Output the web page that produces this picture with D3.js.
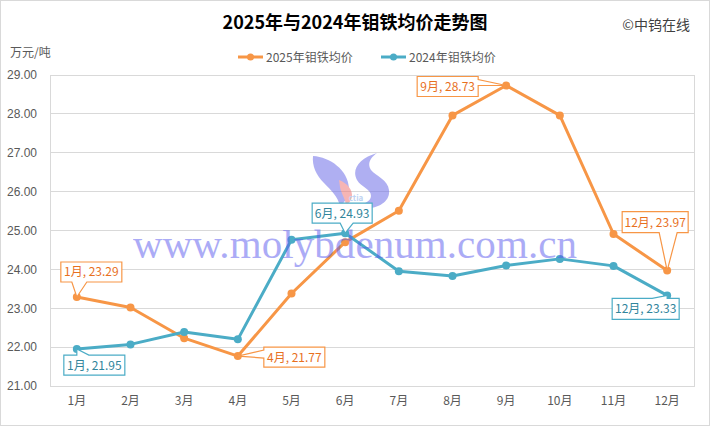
<!DOCTYPE html>
<html><head><meta charset="utf-8">
<script src="https://cdn.jsdelivr.net/npm/d3@7"></script>
<style>
html,body{margin:0;padding:0;background:#fff;}
svg{display:block;}
text{font-family:"Noto Sans CJK SC","Noto Sans",sans-serif;}
</style></head>
<body>
<svg id="c" width="710" height="426"></svg>
<script>
const months = ["1月","2月","3月","4月","5月","6月","7月","8月","9月","10月","11月","12月"];
const values2025 = [23.29,23.02,22.23,21.77,23.38,24.70,25.51,27.96,28.73,27.96,24.91,23.97];
const values2024 = [21.95,22.07,22.39,22.20,24.76,24.93,23.95,23.83,24.10,24.27,24.09,23.33];
const yTicks = [21,22,23,24,25,26,27,28,29];
const seriesNames = ["2025年钼铁均价","2024年钼铁均价"];
const titleText = "2025年与2024年钼铁均价走势图";
const unitText = "万元/吨";
const sourceText = "©中钨在线";
const watermarkText = "www.molybdenum.com.cn";

const C25 = "#F79646", C24 = "#4BACC6", T25 = "#E8701E", T24 = "#31859C";
const svg = d3.select("#c");
const W = 710, H = 426;
const L = 50, R = 694, T = 75, B = 386;

svg.append("rect").attr("x",0.5).attr("y",0.5).attr("width",W-1).attr("height",H-1)
  .attr("fill","#fff").attr("stroke","#d9d9d9");

const x = d3.scaleBand().domain(months).range([L,R]).padding(0);
const cx = m => x(m) + x.bandwidth()/2;
const y = d3.scaleLinear().domain([21,29]).range([B,T]);

// gridlines
svg.append("g").selectAll("line").data(yTicks).join("line")
  .attr("x1",L).attr("x2",R).attr("y1",d=>y(d)).attr("y2",d=>y(d))
  .attr("stroke","#d9d9d9").attr("stroke-width",1).attr("shape-rendering","crispEdges");
svg.append("rect").attr("x",L).attr("y",T).attr("width",R-L).attr("height",B-T)
  .attr("fill","none").attr("stroke","#d9d9d9").attr("shape-rendering","crispEdges");

// axes
const yAxis = svg.append("g").attr("transform",`translate(${L},0)`)
  .call(d3.axisLeft(y).tickValues(yTicks).tickFormat(d3.format(".2f")).tickSize(0).tickPadding(13));
yAxis.select(".domain").remove();
yAxis.selectAll("text").attr("fill","#595959").style("font-size","12px")
  .style("font-family","'Liberation Sans','Noto Sans',sans-serif");

const xAxis = svg.append("g").attr("transform",`translate(0,${B})`)
  .call(d3.axisBottom(x).tickSize(0).tickPadding(10));
xAxis.select(".domain").remove();
xAxis.selectAll("text").attr("fill","#595959").style("font-size","12px");

// lines
const line = d3.line().x((d,i)=>cx(months[i])).y(d=>y(d));
function drawSeries(vals,color){
  svg.append("path").datum(vals).attr("d",line).attr("fill","none")
    .attr("stroke",color).attr("stroke-width",3).attr("stroke-linejoin","round");
  svg.append("g").selectAll("circle").data(vals).join("circle")
    .attr("cx",(d,i)=>cx(months[i])).attr("cy",d=>y(d)).attr("r",4).attr("fill",color);
}
drawSeries(values2025,C25);
drawSeries(values2024,C24);

// watermark logo
const wm = svg.append("g").attr("opacity",0.55);
wm.append("path").attr("fill","#6f6fe8")
  .attr("d","M313,156 C330,157 348,170 349,188 C349,196 345,202 340,206 C338,197 331,190 324,183 C316,175 312,166 313,156 Z");
wm.append("path").attr("fill","#6f6fe8")
  .attr("d","M377,153 C360,158 351,169 357,180 C361,187 371,189 371,196 C371,202 362,205 352,206 C371,213 391,204 389,190 C388,180 376,176 371,170 C367,164 370,158 377,153 Z");
wm.append("path").attr("fill","#f07a7a")
  .attr("d","M339,180 C347,183 353,190 352,197 C351,201 349,203 346,205 C345,198 341,193 340,187 Z");
wm.append("text").attr("x",356).attr("y",201).attr("text-anchor","middle")
  .attr("fill","#8ab0e8").style("font-size","8px").style("font-weight","bold").text("ctia");
svg.append("text").attr("x",133).attr("y",258).attr("textLength",444)
  .attr("fill","#5a5aee").attr("opacity",0.5)
  .style("font-family","'Liberation Serif','DejaVu Serif',serif").style("font-size","41px")
  .text(watermarkText);

// callouts
function callout(i, vals, color, tcolor, box, side, a, b){
  const px = cx(months[i]), py = y(vals[i]);
  const x0=px+box[0], x1=px+box[1], y0=py+box[2], y1=py+box[3];
  let d;
  if(side==="bottom") d=`M${x0},${y0}H${x1}V${y1}H${px+b}L${px},${py}L${px+a},${y1}H${x0}Z`;
  else if(side==="top") d=`M${x0},${y0}H${px+a}L${px},${py}L${px+b},${y0}H${x1}V${y1}H${x0}Z`;
  else if(side==="left") d=`M${x0},${y0}H${x1}V${y1}H${x0}V${py+b}L${px},${py}L${x0},${py+a}Z`;
  else d=`M${x0},${y0}H${x1}V${py+a}L${px},${py}L${x1},${py+b}V${y1}H${x0}Z`;
  svg.append("path").attr("d",d).attr("fill","#fff").attr("stroke",color).attr("stroke-width",1.2);
  svg.append("text").attr("x",(x0+x1)/2).attr("y",(y0+y1)/2+4.5).attr("text-anchor","middle")
    .attr("fill",tcolor).style("font-size","12px")
    .text(`${months[i]}, ${vals[i].toFixed(2)}`);
}
callout(0, values2025, C25, T25, [-16,45,-35,-15], "bottom", -5, 10);
callout(0, values2024, C24, T24, [-13,48,6,26], "top", 0, 12);
callout(3, values2025, C25, T25, [26,87,-9,11], "left", -6, 2);
callout(5, values2024, C24, T24, [-33,27,-30,-10], "bottom", -5, 8);
callout(8, values2025, C25, T25, [-89,-28,-9,11], "right", -6, 0);
callout(11, values2025, C25, T25, [-45,21,-59,-38], "bottom", -8, 10);
callout(11, values2024, C24, T24, [-55,12,3,24], "top", -15, 0);

// title and texts
svg.append("text").attr("x",355).attr("y",29).attr("text-anchor","middle")
  .attr("fill","#000").style("font-size","18px").style("font-weight","bold").text(titleText);
svg.append("text").attr("x",690).attr("y",30).attr("text-anchor","end")
  .attr("fill","#404040").style("font-size","14px").text(sourceText);
svg.append("text").attr("x",10).attr("y",57)
  .attr("fill","#595959").style("font-size","12px").text(unitText);

// legend
const legend = svg.append("g");
[[238,C25,seriesNames[0]],[381,C24,seriesNames[1]]].forEach(([lx,c,t])=>{
  legend.append("line").attr("x1",lx).attr("x2",lx+25).attr("y1",57).attr("y2",57)
    .attr("stroke",c).attr("stroke-width",3);
  legend.append("circle").attr("cx",lx+12.5).attr("cy",57).attr("r",3.5).attr("fill",c);
  legend.append("text").attr("x",lx+28).attr("y",61.5).attr("fill","#595959")
    .style("font-size","12px").text(t);
});
</script>
</body></html>
